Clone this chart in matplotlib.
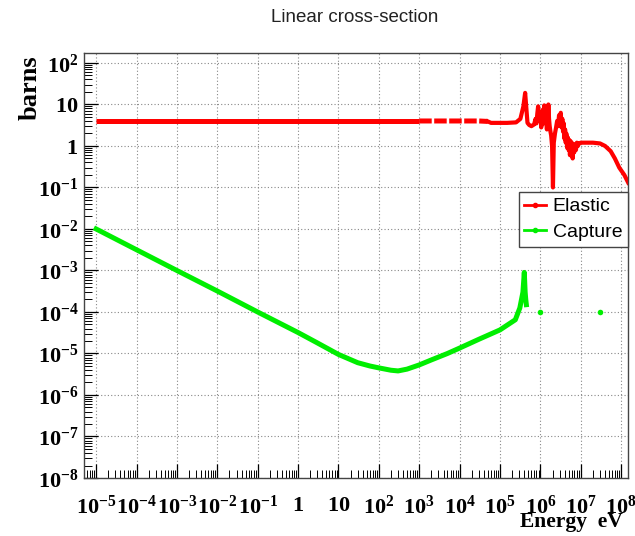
import numpy as np
import matplotlib.pyplot as plt
from matplotlib.lines import Line2D
from matplotlib.ticker import LogLocator, FuncFormatter, NullFormatter

plt.rcParams['mathtext.fontset'] = 'custom'
plt.rcParams['mathtext.rm'] = 'Liberation Serif:bold'
plt.rcParams['mathtext.it'] = 'Liberation Serif:bold:italic'
plt.rcParams['mathtext.bf'] = 'Liberation Serif:bold'

# elastic cross-section (eV, barns)
elastic_e = [1e-5, 1e-3, 1e-1, 10, 1e3, 5e3, 1e4, 3e4, 5e4, 6e4, 1.5e5, 2.5e5, 3.2e5,
             3.8e5, 4.2e5, 4.5e5, 4.8e5, 5.3e5, 6e5, 7e5, 7.6e5, 8e5, 8.4e5, 8.8e5,
             9.3e5, 9.7e5, 1.0e6, 1.05e6, 1.1e6, 1.15e6, 1.2e6, 1.25e6, 1.3e6,
             1.35e6, 1.45e6, 1.52e6, 1.58e6, 1.64e6, 1.7e6, 1.78e6, 1.85e6, 1.95e6,
             2.05e6, 2.15e6, 2.3e6, 2.45e6, 2.6e6, 2.75e6, 2.9e6, 3.05e6, 3.2e6,
             3.35e6, 3.5e6, 3.65e6, 3.8e6, 3.95e6, 4.1e6, 4.25e6, 4.4e6, 4.6e6,
             4.8e6, 5.0e6, 5.2e6, 5.4e6, 5.6e6, 5.8e6, 6.0e6, 6.3e6, 6.6e6, 6.9e6,
             7.2e6, 7.6e6, 8e6, 8.5e6, 9e6, 1e7, 1.4e7, 2e7, 3e7, 4e7, 5.5e7, 7e7,
             9e7, 1.2e8, 1.5e8]
elastic_xs = [4.0, 4.0, 4.0, 4.0, 4.0, 4.0, 4.0, 4.0, 3.9, 3.6, 3.6, 3.7, 4.5,
              9.0, 19.0, 8.0, 3.6, 3.2, 3.0, 3.3, 4.5, 3.5, 6.0, 9.0,
              4.0, 5.0, 6.5, 2.8, 4.5, 7.5, 3.5, 9.5, 4.0,
              6.0, 2.5, 4.0, 10.0, 4.5, 3.0, 2.2, 1.8, 1.0,
              0.1, 1.2, 2.0, 2.8, 4.0, 3.0, 5.5, 4.0, 6.3,
              2.8, 4.5, 2.2, 3.5, 1.5, 2.5, 1.2, 2.0, 0.9,
              1.6, 0.8, 1.4, 0.6, 1.3, 0.7, 1.2, 0.5, 1.0, 0.7,
              1.1, 0.8, 1.2, 1.0, 1.15, 1.2, 1.2, 1.2, 1.15, 1.0, 0.75, 0.5,
              0.3, 0.2, 0.13]

# radiative capture (eV, barns)
capture_e = [1e-5, 1e-4, 1e-3, 1e-2, 1e-1, 1, 3, 10, 30, 60, 100, 200, 300, 500,
             1e3, 2e3, 5e3, 1e4, 3e4, 1e5, 2.4e5, 3.1e5, 3.7e5, 4.0e5, 4.2e5,
             4.35e5, 4.5e5]
capture_xs = [1e-2, 3.16e-3, 1e-3, 3.2e-4, 1e-4, 3.2e-5, 1.8e-5, 9.5e-6, 6e-6,
              5e-6, 4.5e-6, 3.95e-6, 3.8e-6, 4.2e-6, 5.3e-6, 7e-6, 1e-5, 1.35e-5,
              2.2e-5, 3.7e-5, 6.5e-5, 1.25e-4, 3e-4, 9e-4, 3e-4, 2e-4, 1.5e-4]
capture_pts_e = [9.6e5, 3e7]
capture_pts_xs = [1e-4, 1e-4]

fig = plt.figure(figsize=(6.35, 5.36), dpi=100)
ax = fig.add_axes([84/635, 1-478/536, 544/635, 425/536])

e = np.array(elastic_e)
xs = np.array(elastic_xs)
lo = e <= 1e3
mid = (e >= 1e3) & (e <= 5e4)
hi = e >= 5e4
ax.plot(e[lo], xs[lo], color='red', lw=3.6, solid_capstyle='butt')
ax.plot(e[mid], xs[mid], color='red', lw=3.6, linestyle=(0, (2.5, 0.5)))
ax.plot(e[hi], xs[hi], color='red', lw=3.0, solid_joinstyle='round')

ax.plot(capture_e, capture_xs, color='#00ee00', lw=3.6, solid_joinstyle='round')
ax.plot(capture_pts_e, capture_pts_xs, 'o', color='#00ee00', ms=4, mec='none')

ax.set_xscale('log')
ax.set_yscale('log')
ax.set_xlim(10**-5.3, 10**8.17)
ax.set_ylim(1e-8, 10**2.24)


def decade_label(v, pos):
    n = int(round(np.log10(v)))
    if n == 0:
        return '$1$'
    if n == 1:
        return '$10$'
    return '$10^{%d}$' % n


for axis in (ax.xaxis, ax.yaxis):
    axis.set_major_locator(LogLocator(base=10, numticks=20))
    axis.set_minor_locator(LogLocator(base=10, subs=np.arange(2, 10), numticks=20))
    axis.set_major_formatter(FuncFormatter(decade_label))
    axis.set_minor_formatter(NullFormatter())

ax.tick_params(which='both', direction='in', top=False, right=False, color='black')
ax.tick_params(which='major', length=10, width=0.9, labelsize=16)
ax.tick_params(which='minor', length=6, width=0.7)
ax.tick_params(axis='x', which='major', pad=12)
ax.tick_params(axis='y', which='major', pad=4)

ax.grid(which='major', linestyle=(0, (1, 2)), color='#888888', lw=0.8)
for s in ax.spines.values():
    s.set_color('#444444')
    s.set_linewidth(1.0)

fig.text(355/635, 1-17.5/536, 'Linear cross-section', ha='center', va='center',
         fontsize=13.5, family='Liberation Sans', color='#222222')
fig.text(30/635, 1-88/536, 'barns', rotation=90, ha='center', va='center',
         fontsize=19, family='Liberation Serif', weight='bold')
fig.text(623/635, 1-527/536, 'Energy  eV', ha='right', va='baseline',
         fontsize=15.5, family='Liberation Serif', weight='bold')

handles = [Line2D([], [], color='red', lw=2, marker='o', ms=3),
           Line2D([], [], color='#00ee00', lw=2, marker='o', ms=3)]
leg = ax.legend(handles, ['Elastic', 'Capture'], loc='upper right',
                bbox_to_anchor=(628/635, 1-192/536), bbox_transform=fig.transFigure,
                borderaxespad=0, fancybox=False, framealpha=1, edgecolor='#444444',
                prop={'family': 'Liberation Sans', 'size': 14},
                handlelength=1.1, handletextpad=0.35, labelspacing=0.4,
                borderpad=0.3)
leg.get_frame().set_linewidth(1.0)

fig.savefig('out.png', dpi=100)
